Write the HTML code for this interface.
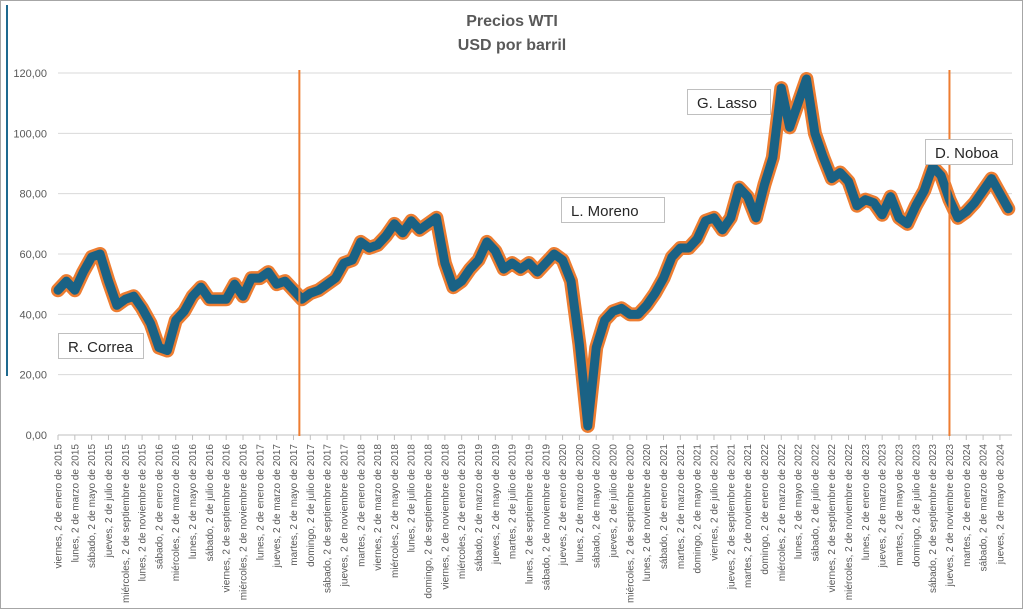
<!DOCTYPE html>
<html><head><meta charset="utf-8"><style>
body{margin:0;background:#fff;}
svg{display:block;font-family:"Liberation Sans",sans-serif;}
</style></head><body>
<svg id="chart" width="1023" height="609">
<rect x="0.5" y="0.5" width="1022" height="608" fill="#fff" stroke="#a6a6a6"/>
<line x1="7" y1="5" x2="7" y2="376" stroke="#1f6a8f" stroke-width="2"/>
<text x="512" y="26" text-anchor="middle" font-size="16" font-weight="bold" fill="#595959">Precios  WTI</text>
<text x="512" y="50" text-anchor="middle" font-size="16" font-weight="bold" fill="#595959">USD por barril</text>
<g id="grid"></g><g id="xaxis"></g><g id="series"></g><g id="events"></g><g id="annot"></g>
</svg>
<script>
const yTicks=[0,20,40,60,80,100,120];
const tickLabels=["0,00","20,00","40,00","60,00","80,00","100,00","120,00"];
const startYear=2015;
const prices=[
48,51,48,54,59,60,51,43,45,46,42,37,
29,28,38,41,46,49,45,45,45,50,46,52,
52,54,50,51,48,45,47,48,50,52,57,58,
64,62,63,66,70,67,71,68,70,72,57,49,
51,55,58,64,61,55,57,55,57,54,57,60,
58,51,30,3,29,38,41,42,40,40,43,47,
52,59,62,62,65,71,72,68,72,82,79,72,
83,92,115,102,110,118,100,92,85,87,84,76,
78,77,73,79,72,70,76,81,89,86,78,72,
74,77,81,85,80,75];
const eventMonths=[28.7,106];
const annotations=[["R. Correa",58,333,85],["L. Moreno",561,197,103],["G. Lasso",687,89,83],["D. Noboa",925,139,87]];
const dayNames=["domingo","lunes","martes","miércoles","jueves","viernes","sábado"];
const monthNames=["enero","febrero","marzo","abril","mayo","junio","julio","agosto","septiembre","octubre","noviembre","diciembre"];
const NS="http://www.w3.org/2000/svg";
const X=m=>58+m*8.41;
const Y=v=>435-v*(362/120);
function mk(t,a,p){const e=document.createElementNS(NS,t);for(const k in a)e.setAttribute(k,a[k]);p.appendChild(e);return e;}
const grid=document.getElementById('grid');
yTicks.forEach((v,i)=>{
 const l=mk('line',{x1:58,x2:1012,y1:Y(v),y2:Y(v),stroke:v===0?'#bfbfbf':'#d9d9d9','stroke-width':1},grid);
 
 
 const t=mk('text',{x:47,y:Y(v)+4,'text-anchor':'end','font-size':11,fill:'#595959'},grid);
 t.textContent=tickLabels[i];
 
 
});
const xa=document.getElementById('xaxis');
for(let m=0;m<=112;m+=2){
 const yr=startYear+Math.floor(m/12),mo=m%12;
 const d=new Date(Date.UTC(yr,mo,2));
 const lab=dayNames[d.getUTCDay()]+", 2 de "+monthNames[mo]+" de "+yr;
 const x=X(m);
 const tk=mk('line',{x1:x,x2:x,y1:435,y2:440,stroke:'#bfbfbf'},xa);
 
 
 const t=mk('text',{x:0,y:0,'text-anchor':'end','font-size':10,fill:'#595959',transform:`translate(${x+3.5},444) rotate(-90)`},xa);
 t.textContent=lab;
 
 
}
const s=document.getElementById('series');
const pts=prices.map((v,i)=>X(i)+','+Y(v)).join(' ');
const o=mk('polyline',{points:pts,fill:'none',stroke:'#ed7d31','stroke-width':14,'stroke-linejoin':'round','stroke-linecap':'round'},s);


const b=mk('polyline',{points:pts,fill:'none',stroke:'#1a6285','stroke-width':9,'stroke-linejoin':'round','stroke-linecap':'round'},s);


const ev=document.getElementById('events');
eventMonths.forEach(m=>{
 const l=mk('line',{x1:X(m),x2:X(m),y1:70,y2:436,stroke:'#ed7d31','stroke-width':2},ev);
 
 
});
const an=document.getElementById('annot');
annotations.forEach(a=>{
 const r=mk('rect',{x:a[1]+0.5,y:a[2]+0.5,width:a[3],height:25,fill:'#fff',stroke:'#bfbfbf'},an);
 
 
 const t=mk('text',{x:a[1]+10,y:a[2]+19,'font-size':15,fill:'#262626'},an);
 t.textContent=a[0];
 
 
});
</script>
</body></html>
